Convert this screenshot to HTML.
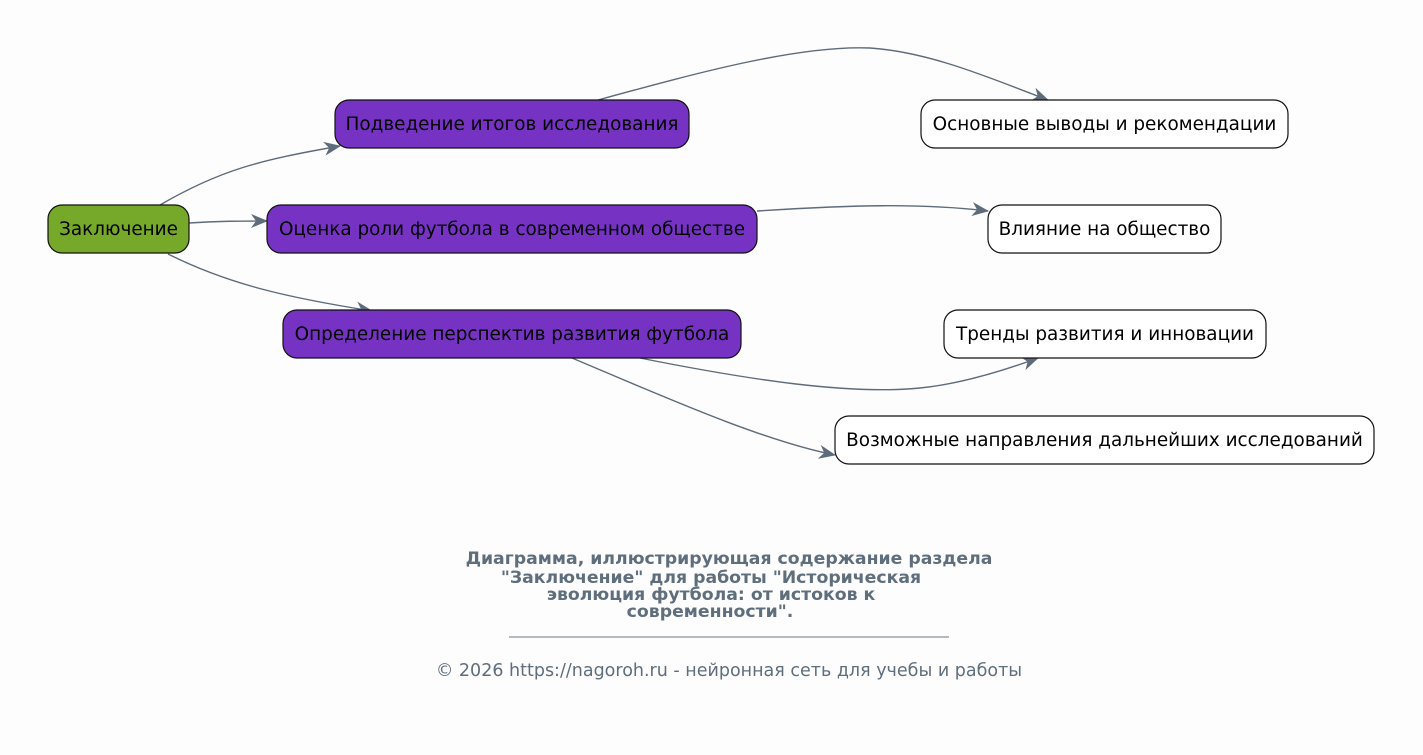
<!DOCTYPE html>
<html><head><meta charset="utf-8"><style>
html,body{margin:0;padding:0;background:#fdfdfd;}
svg{display:block;font-family:"DejaVu Sans","Liberation Sans",sans-serif;}
</style></head><body>
<svg width="1423" height="755" viewBox="0 0 1423 755" xmlns="http://www.w3.org/2000/svg">
<defs>
<marker id="a" markerWidth="18" markerHeight="14" refX="16" refY="7" orient="auto" markerUnits="userSpaceOnUse">
<path d="M0,0 L17,7 L0,14 L5,7 Z" fill="#5e6b7a"/>
</marker>
</defs>
<g fill="none" stroke="#5e6b7a" stroke-width="1.4" marker-end="url(#a)">
<path d="M160,205 C220,170 260,160 340,146"/>
<path d="M189,223 C220,221 240,221 267,221"/>
<path d="M168,254 C230,285 290,298 372,311"/>
<path d="M598,100 C700,72 800,45 870,48 C930,52 990,78 1048,100"/>
<path d="M757,211 C850,205 920,203 988,211"/>
<path d="M640,358 C750,380 850,395 920,388 C960,384 1000,372 1038,358"/>
<path d="M572,358 C660,395 760,440 835,455"/>
</g>
<g stroke="#111" stroke-width="1.2">
<rect x="48" y="205" width="141" height="48" rx="14" fill="#76a82a"/>
<rect x="335" y="100" width="354" height="48" rx="14" fill="#7633c3"/>
<rect x="267" y="205" width="490" height="48" rx="14" fill="#7633c3"/>
<rect x="283" y="310" width="458" height="48" rx="14" fill="#7633c3"/>
<rect x="921" y="100" width="367" height="48" rx="14" fill="#fff"/>
<rect x="988" y="205" width="233" height="48" rx="14" fill="#fff"/>
<rect x="944" y="310" width="322" height="48" rx="14" fill="#fff"/>
<rect x="835" y="416" width="539" height="48" rx="14" fill="#fff"/>
</g>
<g font-size="18.4" text-anchor="middle" fill="#000">
<text x="118.5" y="235">Заключение</text>
<text x="512" y="130">Подведение итогов исследования</text>
<text x="512" y="235">Оценка роли футбола в современном обществе</text>
<text x="512" y="340">Определение перспектив развития футбола</text>
<text x="1104.5" y="130">Основные выводы и рекомендации</text>
<text x="1104.5" y="235">Влияние на общество</text>
<text x="1105" y="340">Тренды развития и инновации</text>
<text x="1104.5" y="446">Возможные направления дальнейших исследований</text>
</g>
<g font-size="17.3" font-weight="bold" fill="#5f6e7d" text-anchor="middle">
<text x="729" y="564">Диаграмма, иллюстрирующая содержание раздела</text>
<text x="711" y="583">"Заключение" для работы "Историческая</text>
<text x="711" y="600">эволюция футбола: от истоков к</text>
<text x="710" y="617">современности".</text>
</g>
<line x1="509" y1="637" x2="949" y2="637" stroke="#6a7785" stroke-width="1"/>
<text x="729" y="676" font-size="17.5" fill="#5f6e7d" text-anchor="middle">© 2026 https://nagoroh.ru - нейронная сеть для учебы и работы</text>
</svg>
</body></html>
